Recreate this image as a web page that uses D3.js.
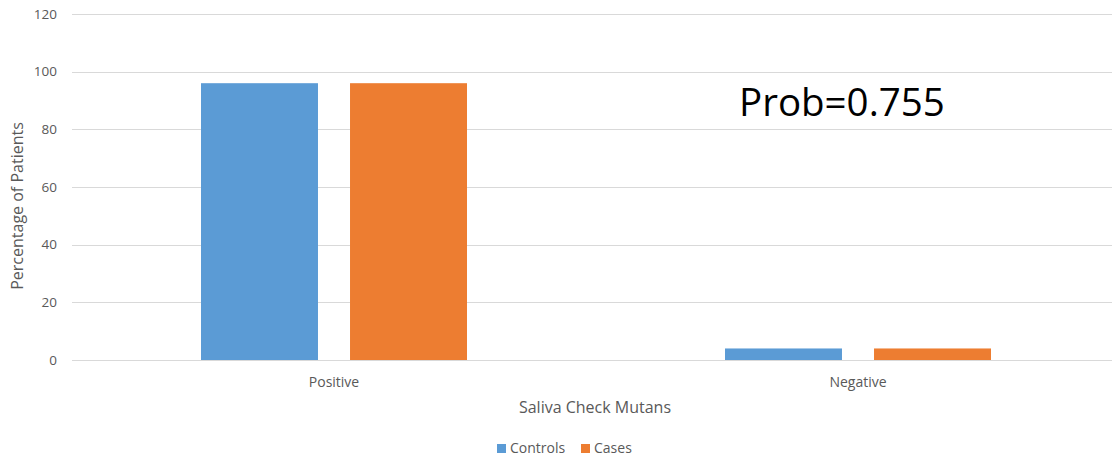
<html>
<head>
<style>
  body { margin: 0; background: #fff; }
  text { font-family: "Open Sans", "Liberation Sans", sans-serif; }
</style>
</head>
<body>
<svg id="svg" width="1112" height="462"></svg>
<script src="https://d3js.org/d3.v7.min.js"></script>
<script>

var categories = ["Positive", "Negative"];
var seriesNames = ["Controls", "Cases"];
var controls = [96, 4];
var cases = [96, 4];
var yTicks = [0, 20, 40, 60, 80, 100, 120];
var colors = ["#5b9bd5", "#ed7d31"];

var rows = categories.map((c, i) => ({ cat: c, vals: [controls[i], cases[i]] }));

var svg = d3.select("#svg");
var pLeft = 72, pRight = 1120, pTop = 14, pBottom = 360;

var y = d3.scaleLinear().domain([0, 120]).range([pBottom, pTop]);
var x0 = d3.scaleBand().domain(categories).range([pLeft, pRight]);
var x1 = d3.scaleBand().domain(seriesNames).range([-133, 133]).paddingInner(0.215);

// gridlines
svg.append("g")
  .selectAll("line").data(yTicks)
  .join("line")
  .attr("x1", pLeft).attr("x2", pRight)
  .attr("y1", d => Math.round(y(d)) + 0.5).attr("y2", d => Math.round(y(d)) + 0.5)
  .style("stroke", "#d9d9d9").style("stroke-width", 1.2);

// y tick labels
svg.append("g")
  .selectAll("text").data(yTicks)
  .join("text")
  .attr("x", 57).attr("y", d => y(d)).attr("dy", "0.35em")
  .attr("text-anchor", "end")
  .style("font-size", "13.5px").style("fill", "#595959")
  .text(d => d);

// bars
svg.append("g")
  .selectAll("g").data(rows)
  .join("g")
  .attr("transform", d => "translate(" + (x0(d.cat) + x0.bandwidth() / 2) + ",0)")
  .selectAll("rect").data(d => d.vals.map((v, i) => ({ s: seriesNames[i], v: v, i: i })))
  .join("rect")
  .attr("x", d => x1(d.s))
  .attr("width", x1.bandwidth())
  .attr("y", d => y(d.v))
  .attr("height", d => y(0) - y(d.v))
  .style("fill", d => colors[d.i]);

// x tick labels
svg.append("g")
  .selectAll("text").data(categories)
  .join("text")
  .attr("x", d => x0(d) + x0.bandwidth() / 2).attr("y", 387)
  .attr("text-anchor", "middle")
  .style("font-size", "14px").style("fill", "#595959")
  .text(d => d);

// axis titles
svg.append("text")
  .attr("x", 595).attr("y", 413)
  .attr("text-anchor", "middle")
  .style("font-size", "16px").style("fill", "#595959")
  .text("Saliva Check Mutans");

svg.append("text")
  .attr("transform", "translate(23,206) rotate(-90)")
  .attr("text-anchor", "middle")
  .style("font-size", "16px").style("fill", "#595959")
  .text("Percentage of Patients");

// annotation
svg.append("text")
  .attr("x", 739).attr("y", 116)
  .style("font-size", "38.5px").style("fill", "#000")
  .text("Prob=0.755");

// legend
var lg = svg.append("g").selectAll("g").data(seriesNames)
  .join("g")
  .attr("transform", (d, i) => "translate(" + [497, 581][i] + ",444)");
lg.append("rect").attr("width", 9).attr("height", 9).style("fill", (d, i) => colors[i]);
lg.append("text").attr("x", 13).attr("y", 4.5).attr("dy", "0.35em")
  .style("font-size", "14px").style("fill", "#595959")
  .text(d => d);

</script>
</body>
</html>
